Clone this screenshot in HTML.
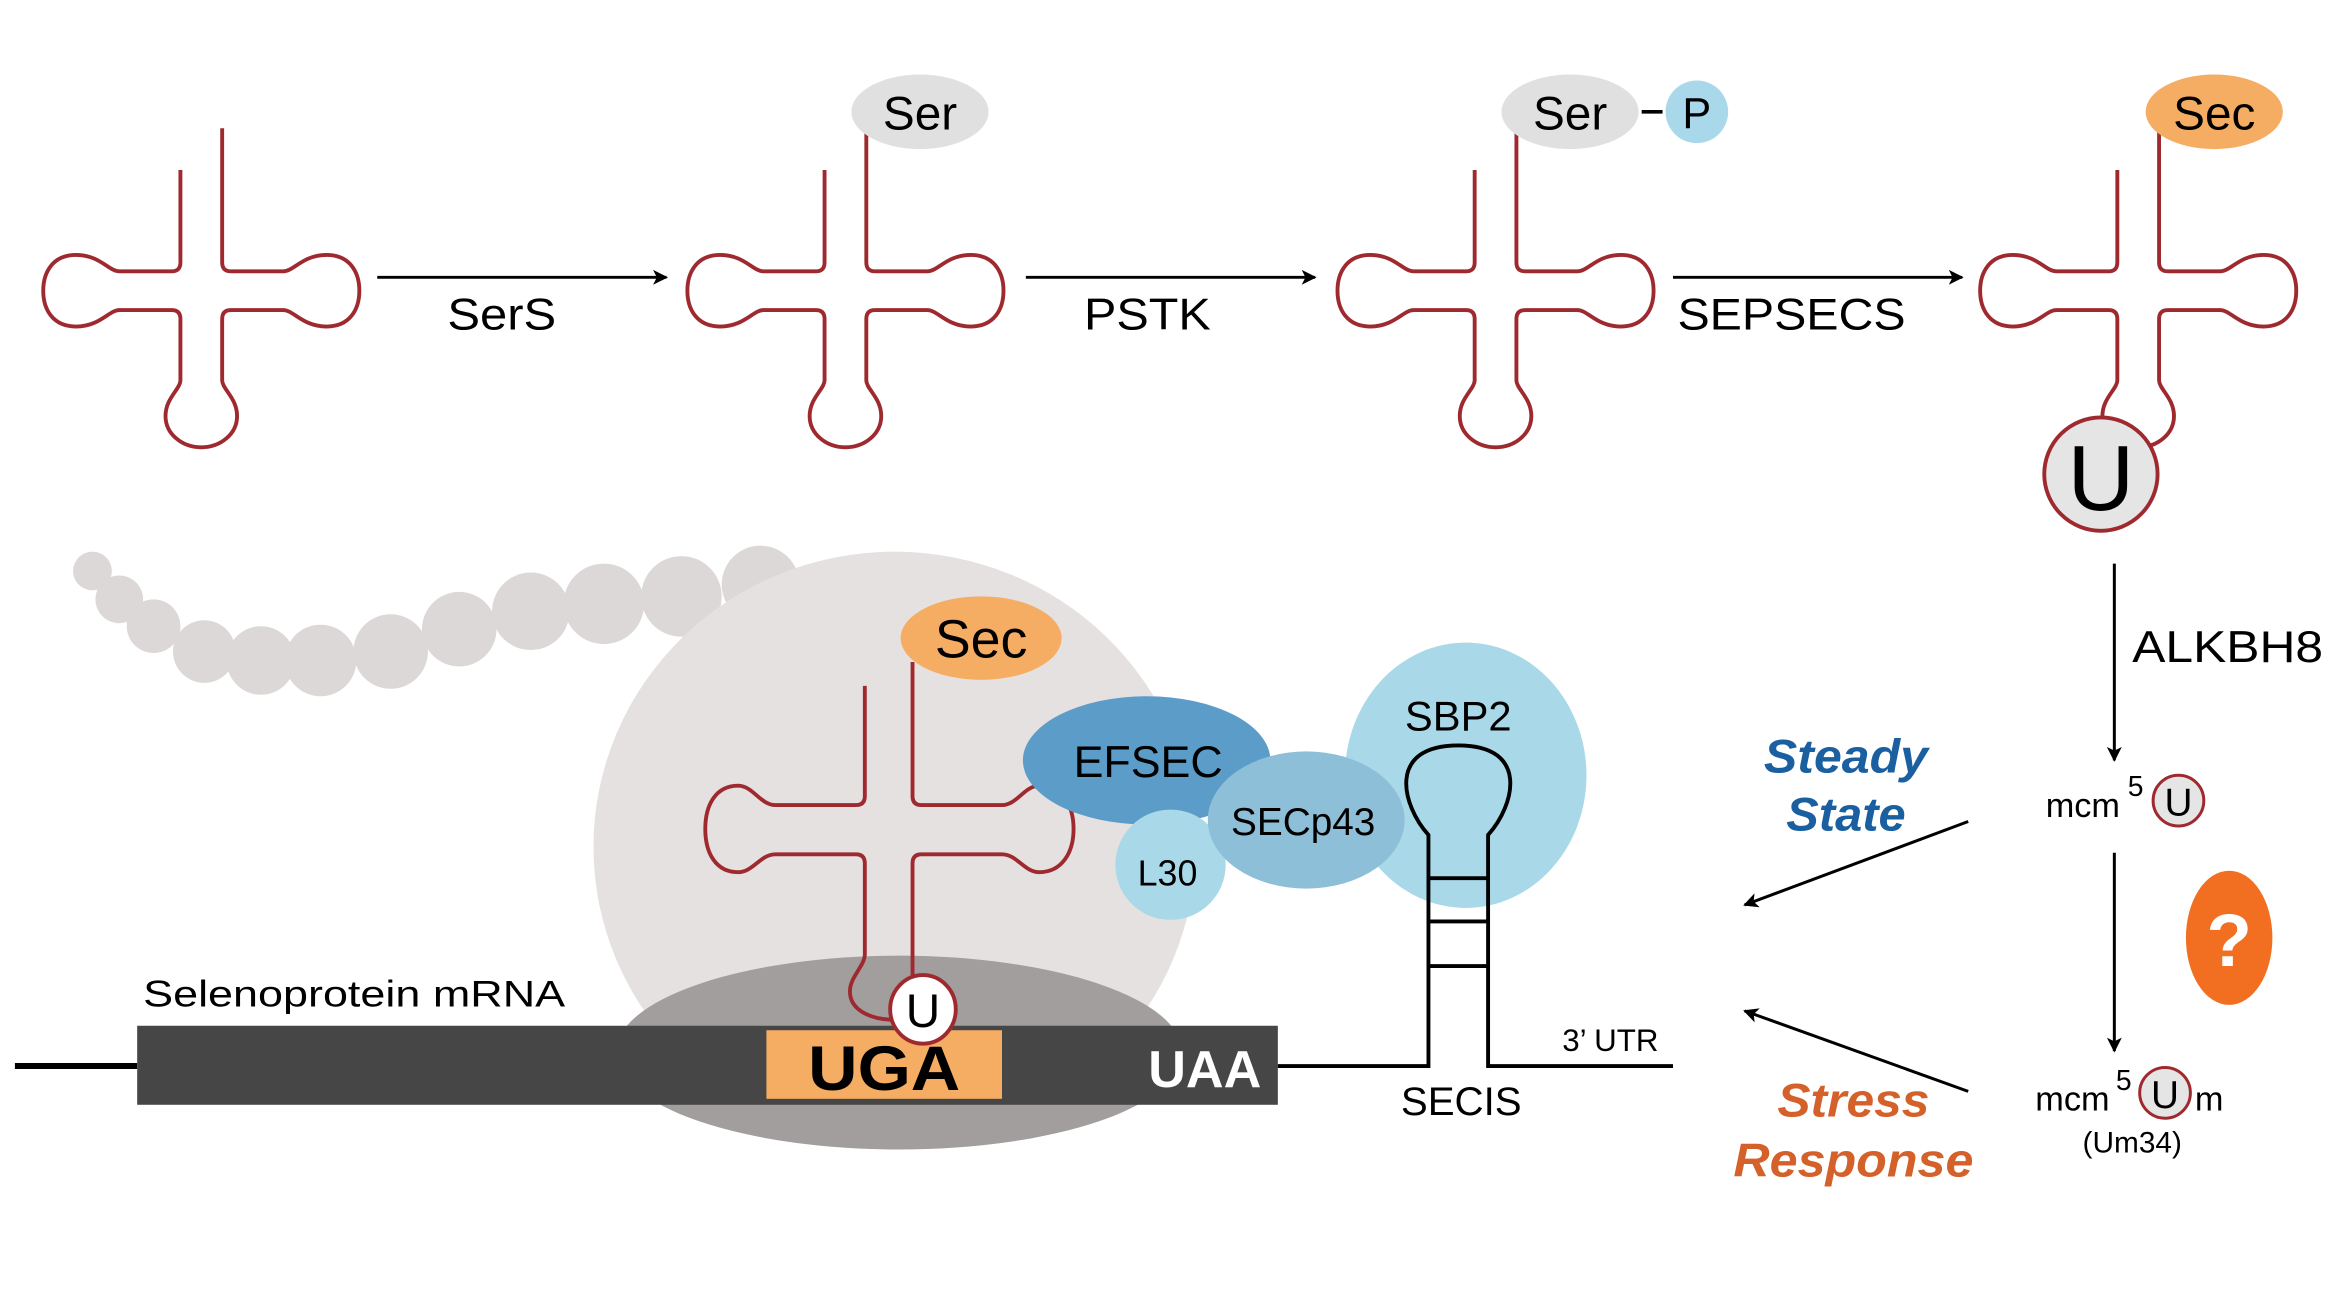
<!DOCTYPE html>
<html><head><meta charset="utf-8"><style>
html,body{margin:0;padding:0;background:#fff;}
svg{display:block;}
text{font-family:"Liberation Sans",sans-serif;}
</style></head><body>
<svg width="2338" height="1315" viewBox="0 0 1568 882" preserveAspectRatio="none" xmlns="http://www.w3.org/2000/svg">
<defs>
<marker id="ah" markerWidth="10" markerHeight="10" refX="9" refY="5" orient="auto" markerUnits="userSpaceOnUse">
<path d="M0,0 L10,5 L0,10 L2.5,5 Z" fill="#000"/></marker>
<path id="trna" fill="none" stroke="#9e2a2f" stroke-width="2.6" d="M-14,-81 V-19 Q-14,-13 -20,-13 H-55 C-62,-13 -68,-24 -84,-24 C-100,-24 -106,-12 -106,0 C-106,12 -100,24 -84,24 C-68,24 -62,13 -55,13 H-20 Q-14,13 -14,19 V60 C-14,66 -24,72 -24,84 C-24,96 -13,105 0,105 C13,105 24,96 24,84 C24,72 14,66 14,60 V19 Q14,13 20,13 H55 C62,13 68,24 84,24 C100,24 106,12 106,0 C106,-12 100,-24 84,-24 C68,-24 62,-13 55,-13 H20 Q14,-13 14,-19 V-109"/>
</defs>
<rect width="1568" height="882" fill="#fff"/>

<use href="#trna" x="135" y="195"/>
<use href="#trna" x="567" y="195"/>
<use href="#trna" x="1003" y="195"/>
<use href="#trna" x="1434" y="195"/>

<ellipse cx="617" cy="75" rx="46" ry="25" fill="#e0e0e0"/>
<text x="617" y="87" font-size="32" text-anchor="middle">Ser</text>
<ellipse cx="1053" cy="75" rx="46" ry="25" fill="#e0e0e0"/>
<text x="1053" y="87" font-size="32" text-anchor="middle">Ser</text>
<line x1="1101" y1="75" x2="1115" y2="75" stroke="#000" stroke-width="2.5"/>
<circle cx="1138" cy="75" r="21" fill="#a8d8ea"/>
<text x="1138" y="86" font-size="29" text-anchor="middle">P</text>
<ellipse cx="1485" cy="75" rx="46" ry="25" fill="#f5ad63"/>
<text x="1485" y="87" font-size="32" text-anchor="middle">Sec</text>

<circle cx="1409" cy="318" r="38" fill="#e5e5e5" stroke="#9e2a2f" stroke-width="2.6"/>
<text x="1409" y="342" font-size="62" text-anchor="middle">U</text>

<line x1="253" y1="186" x2="447" y2="186" stroke="#000" stroke-width="2" marker-end="url(#ah)"/>
<line x1="688" y1="186" x2="882" y2="186" stroke="#000" stroke-width="2" marker-end="url(#ah)"/>
<line x1="1122" y1="186" x2="1316" y2="186" stroke="#000" stroke-width="2" marker-end="url(#ah)"/>
<text x="300" y="221" font-size="30" textLength="73" lengthAdjust="spacingAndGlyphs">SerS</text>
<text x="727" y="221" font-size="30" textLength="85" lengthAdjust="spacingAndGlyphs">PSTK</text>
<text x="1125" y="221" font-size="30" textLength="153" lengthAdjust="spacingAndGlyphs">SEPSECS</text>

<line x1="1418" y1="378" x2="1418" y2="510" stroke="#000" stroke-width="2" marker-end="url(#ah)"/>
<text x="1430" y="444" font-size="30" textLength="128" lengthAdjust="spacingAndGlyphs">ALKBH8</text>
<text x="1372" y="548" font-size="23">mcm</text>
<text x="1427" y="534" font-size="19">5</text>
<circle cx="1461" cy="537" r="17" fill="#e5e5e5" stroke="#9e2a2f" stroke-width="2"/>
<text x="1461" y="547" font-size="26" text-anchor="middle">U</text>
<line x1="1418" y1="572" x2="1418" y2="705" stroke="#000" stroke-width="2" marker-end="url(#ah)"/>
<text x="1365" y="745" font-size="23">mcm</text>
<text x="1419" y="731" font-size="19">5</text>
<circle cx="1452" cy="733" r="17" fill="#e5e5e5" stroke="#9e2a2f" stroke-width="2"/>
<text x="1452" y="743" font-size="26" text-anchor="middle">U</text>
<text x="1472" y="745" font-size="23">m</text>
<text x="1430" y="773" font-size="20" text-anchor="middle">(Um34)</text>
<ellipse cx="1495" cy="629" rx="29" ry="45" fill="#f26f21"/>
<text x="1495" y="648" font-size="50" font-weight="bold" fill="#fff" text-anchor="middle">?</text>

<text x="1238" y="518" font-size="32" font-weight="bold" font-style="italic" fill="#1a5fa0" text-anchor="middle" textLength="110" lengthAdjust="spacingAndGlyphs">Steady</text>
<text x="1238" y="557" font-size="32" font-weight="bold" font-style="italic" fill="#1a5fa0" text-anchor="middle" textLength="80" lengthAdjust="spacingAndGlyphs">State</text>
<line x1="1320" y1="551" x2="1170" y2="607" stroke="#000" stroke-width="2" marker-end="url(#ah)"/>
<text x="1243" y="749" font-size="32" font-weight="bold" font-style="italic" fill="#d4602a" text-anchor="middle" textLength="102" lengthAdjust="spacingAndGlyphs">Stress</text>
<text x="1243" y="789" font-size="32" font-weight="bold" font-style="italic" fill="#d4602a" text-anchor="middle" textLength="161" lengthAdjust="spacingAndGlyphs">Response</text>
<line x1="1320" y1="732" x2="1170" y2="678" stroke="#000" stroke-width="2" marker-end="url(#ah)"/>

<g fill="#ddd8d8">
<circle cx="62" cy="383" r="13"/><circle cx="80" cy="402" r="16"/><circle cx="103" cy="420" r="18"/>
<circle cx="137" cy="437" r="21"/><circle cx="175" cy="443" r="23"/><circle cx="215" cy="443" r="24"/>
<circle cx="262" cy="437" r="25"/><circle cx="308" cy="422" r="25"/><circle cx="356" cy="410" r="26"/>
<circle cx="405" cy="405" r="27"/><circle cx="457" cy="400" r="27"/><circle cx="510" cy="392" r="26"/>
</g>
<ellipse cx="600" cy="568" rx="202" ry="198" fill="#e6e1e1"/>
<ellipse cx="603" cy="706" rx="190" ry="65" fill="#a39e9e"/>

<line x1="10" y1="715" x2="92" y2="715" stroke="#000" stroke-width="4"/>
<rect x="92" y="688" width="765" height="53" fill="#474646"/>
<rect x="514" y="691" width="158" height="46" fill="#f5ad63"/>
<text x="593" y="731" font-size="42" font-weight="bold" text-anchor="middle" textLength="102" lengthAdjust="spacingAndGlyphs">UGA</text>
<text x="808" y="729" font-size="35" font-weight="bold" fill="#fff" text-anchor="middle">UAA</text>
<text x="96" y="675" font-size="25" textLength="283" lengthAdjust="spacingAndGlyphs">Selenoprotein mRNA</text>

<ellipse cx="658" cy="428" rx="54" ry="28" fill="#f5ad63"/>
<text x="658" y="441" font-size="36" text-anchor="middle">Sec</text>
<path fill="none" stroke="#9e2a2f" stroke-width="2.6" d="M580,460 V534 Q580,540 574,540 H520 C510,540 505,527 495,527 C480,527 473,540 473,556 C473,572 480,585 495,585 C505,585 510,573 520,573 H574 Q580,573 580,579 V640 C580,648 570,655 570,665 C570,678 585,684 600,684 M612,444 V534 Q612,540 618,540 H672 C682,540 687,527 697,527 C712,527 720,540 720,556 C720,572 712,585 697,585 C687,585 682,573 672,573 H618 Q612,573 612,579 V665"/>
<ellipse cx="619" cy="677" rx="22" ry="23" fill="#fff" stroke="#9e2a2f" stroke-width="2.6"/>
<text x="619" y="689" font-size="32" text-anchor="middle">U</text>

<ellipse cx="983" cy="520" rx="81" ry="89" fill="#a9d9e8"/>
<text x="978" y="490" font-size="28" text-anchor="middle">SBP2</text>
<path fill="none" stroke="#000" stroke-width="2.6" d="M857,715 H958 V560 C940,540 930,500 978,500 C1026,500 1016,540 998,560 V715 H1122 M958,589 H998 M958,618 H998 M958,648 H998"/>
<text x="980" y="748" font-size="27" text-anchor="middle">SECIS</text>
<text x="1080" y="705" font-size="21" text-anchor="middle">3’ UTR</text>

<ellipse cx="769" cy="510" rx="83" ry="43" fill="#5b9cc9"/>
<text x="770" y="521" font-size="30" text-anchor="middle">EFSEC</text>
<ellipse cx="785" cy="580" rx="37" ry="37" fill="#a9d9e8"/>
<text x="783" y="594" font-size="24" text-anchor="middle">L30</text>
<ellipse cx="876" cy="550" rx="66" ry="46" fill="#8ebfd8"/>
<text x="874" y="560" font-size="26" text-anchor="middle">SECp43</text>
</svg>
</body></html>
